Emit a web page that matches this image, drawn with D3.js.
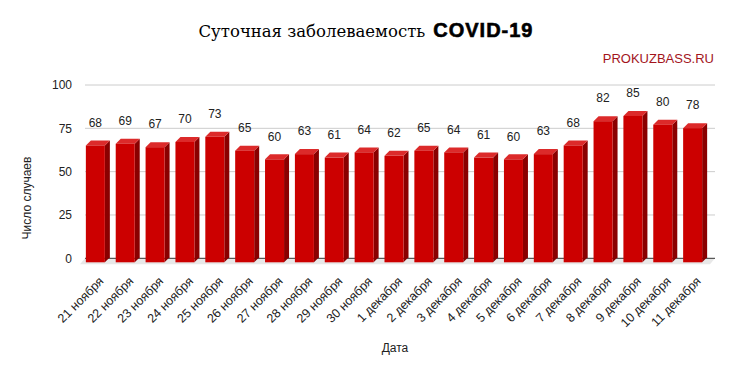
<!DOCTYPE html>
<html lang="ru">
<head>
    <meta charset="utf-8">
    <script src="https://d3js.org/d3.v7.min.js"></script>
    <style>
        body { margin: 0; background: #fff; }
        .serif { font-family: "DejaVu Serif", "Liberation Serif", serif; }
    </style>
</head>
<body>
<div id="my_dataviz"></div>
<script>
    // data
    var dates = ["21 ноября", "22 ноября", "23 ноября", "24 ноября", "25 ноября", "26 ноября",
        "27 ноября", "28 ноября", "29 ноября", "30 ноября", "1 декабря", "2 декабря",
        "3 декабря", "4 декабря", "5 декабря", "6 декабря", "7 декабря", "8 декабря",
        "9 декабря", "10 декабря", "11 декабря"];
    var cases = [68, 69, 67, 70, 73, 65, 60, 63, 61, 64, 62, 65, 64, 61, 60, 63, 68, 82, 85, 80, 78];
    var yTicks = [0, 25, 50, 75, 100];

    var width = 733, height = 374;
    var depth = 5; // 3d offset of the bars
    var sans = "'Liberation Sans', Arial, sans-serif";

    var svg = d3.select("#my_dataviz")
        .append("svg")
        .attr("width", width)
        .attr("height", height);

    // title: serif part + heavy sans part, centred together
    var t1 = svg.append("text")
        .attr("class", "serif")
        .attr("y", 37)
        .style("font-size", "16.5px")
        .attr("fill", "#000")
        .text("Суточная заболеваемость");
    var t2 = svg.append("text")
        .attr("y", 37)
        .style("font-family", sans)
        .style("font-weight", "bold")
        .style("font-size", "20px")
        .style("letter-spacing", "1px")
        .attr("fill", "#000")
        .attr("stroke", "#000")
        .attr("stroke-width", 0.6)
        .text("COVID-19");
    var w1 = t1.node().getComputedTextLength(),
        w2 = t2.node().getComputedTextLength(),
        gap = 8,
        tx = 366 - (w1 + gap + w2) / 2;
    t1.attr("x", tx);
    t2.attr("x", tx + w1 + gap);

    svg.append("text")
        .attr("x", 714)
        .attr("y", 63)
        .attr("text-anchor", "end")
        .style("font-family", sans)
        .style("font-size", "13px")
        .attr("fill", "#a3141c")
        .text("PROKUZBASS.RU");

    // scales
    var x = d3.scaleBand()
        .domain(dates)
        .range([75, 713])
        .padding(0.3635);

    var y = d3.scaleLinear()
        .domain([0, 100])
        .range([258.3, 85]);

    // grid
    svg.selectAll(".grid")
        .data(yTicks.filter(function (d) { return d > 0; }))
        .enter()
        .append("line")
        .attr("x1", 85)
        .attr("x2", 715)
        .attr("y1", function (d) { return y(d); })
        .attr("y2", function (d) { return y(d); })
        .style("stroke", "#cccccc")
        .style("stroke-width", 1);

    svg.selectAll(".ytick")
        .data(yTicks)
        .enter()
        .append("text")
        .attr("x", 72)
        .attr("y", function (d) { return y(d); })
        .attr("dy", "0.35em")
        .attr("text-anchor", "end")
        .style("font-family", sans)
        .style("font-size", "12px")
        .attr("fill", "#222")
        .text(function (d) { return d; });

    // floor under the bars
    svg.append("path")
        .attr("d", "M85," + y(0) + "L715," + y(0) + "L" + (715 - depth) + "," + (y(0) + depth + 1) +
            "L" + (85 - depth) + "," + (y(0) + depth + 1) + "Z")
        .style("fill", "#e8e8e8");

    svg.append("line")
        .attr("x1", 85)
        .attr("x2", 715)
        .attr("y1", y(0))
        .attr("y2", y(0))
        .style("stroke", "#333")
        .style("stroke-width", 1);

    // bars
    var bw = x.bandwidth();
    var bar = svg.selectAll(".bar")
        .data(dates.map(function (d, i) { return {date: d, value: cases[i]}; }))
        .enter()
        .append("g")
        .attr("class", "bar");

    // right side
    bar.append("path")
        .attr("d", function (d) {
            var x0 = x(d.date) + bw, yt = y(d.value) + depth, yb = y(0) + depth - 1;
            return "M" + x0 + "," + yt + "L" + (x0 + depth) + "," + (yt - depth) +
                "L" + (x0 + depth) + "," + (yb - depth) + "L" + x0 + "," + yb + "Z";
        })
        .style("fill", "#8a0000");

    // top
    bar.append("path")
        .attr("d", function (d) {
            var x0 = x(d.date), yt = y(d.value) + depth;
            return "M" + x0 + "," + yt + "L" + (x0 + depth) + "," + (yt - depth) +
                "L" + (x0 + bw + depth) + "," + (yt - depth) + "L" + (x0 + bw) + "," + yt + "Z";
        })
        .style("fill", "#dc2a2a");

    // front
    bar.append("rect")
        .attr("x", function (d) { return x(d.date); })
        .attr("y", function (d) { return y(d.value) + depth; })
        .attr("width", bw)
        .attr("height", function (d) { return y(0) - y(d.value) - 1; })
        .style("fill", "#cc0000");

    // value labels
    bar.append("text")
        .attr("x", function (d) { return x(d.date) + bw / 2; })
        .attr("y", function (d) { return y(d.value) - 18; })
        .attr("dy", "0.35em")
        .attr("text-anchor", "middle")
        .style("font-family", sans)
        .style("font-size", "12px")
        .attr("fill", "#222")
        .text(function (d) { return d.value; });

    // x labels
    svg.selectAll(".xlabel")
        .data(dates)
        .enter()
        .append("text")
        .attr("transform", function (d) {
            return "translate(" + (x(d) + bw / 2 + 9) + ",282) rotate(-45)";
        })
        .attr("text-anchor", "end")
        .style("font-family", sans)
        .style("font-size", "12.5px")
        .attr("fill", "#222")
        .text(function (d) { return d; });

    // axis titles
    svg.append("text")
        .attr("x", 395)
        .attr("y", 352)
        .attr("text-anchor", "middle")
        .style("font-family", sans)
        .style("font-size", "12px")
        .attr("fill", "#222")
        .text("Дата");

    svg.append("text")
        .attr("transform", "translate(31,198) rotate(-90)")
        .attr("text-anchor", "middle")
        .style("font-family", sans)
        .style("font-size", "12px")
        .attr("fill", "#222")
        .text("Число случаев");
</script>
</body>
</html>
